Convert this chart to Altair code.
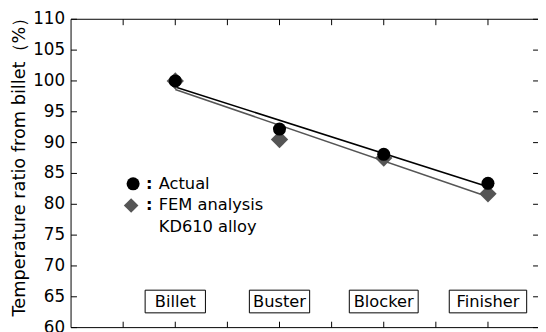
import altair as alt
import pandas as pd

# ---- data ----
stages = ["Billet", "Buster", "Blocker", "Finisher"]
stage_pos = [2, 4, 6, 8]
actual = [100.0, 92.2, 88.1, 83.4]
fem = [100.0, 90.5, 87.5, 81.7]
y_ticks = [60, 65, 70, 75, 80, 85, 90, 95, 100, 105, 110]
x_ticks = [1, 2, 3, 4, 5, 6, 7, 8]
legend_actual = "Actual"
legend_fem = ["FEM analysis", "KD610 alloy"]
y_title = "Temperature ratio from billet（%）"

# ---- layout / style ----
W, H = 474, 313
FONT = "DejaVu Sans"
GRAY = "#555555"

df = pd.DataFrame({
    "pos": stage_pos * 2,
    "value": actual + fem,
    "series": ["Actual"] * len(actual) + ["FEM"] * len(fem),
})
stage_df = pd.DataFrame({"pos": stage_pos, "label": stages})
yt_df = pd.DataFrame({"v": y_ticks})
xt_df = pd.DataFrame({"v": x_ticks})
one = pd.DataFrame({"a": [0]})

xs = alt.Scale(domain=[0, 8.96], nice=False, zero=False)
ys = alt.Scale(domain=[60, 110], nice=False, zero=False)

X = lambda f: alt.X(f, scale=xs, axis=None)
Y = lambda f: alt.Y(f, scale=ys, axis=None)

color_scale = alt.Scale(domain=["Actual", "FEM"], range=["black", GRAY])

lines = alt.Chart(df).transform_regression(
    "pos", "value", groupby=["series"]
).mark_line(strokeWidth=1.6).encode(
    x=X("pos:Q"), y=Y("value:Q"),
    color=alt.Color("series:N", scale=color_scale, legend=None),
)

diamonds = alt.Chart(df).transform_filter(alt.datum.series == "FEM").mark_point(
    shape="diamond", filled=True, size=310, color=GRAY, opacity=1
).encode(x=X("pos:Q"), y=Y("value:Q"))

circles = alt.Chart(df).transform_filter(alt.datum.series == "Actual").mark_point(
    shape="circle", filled=True, size=175, color="black", opacity=1
).encode(x=X("pos:Q"), y=Y("value:Q"))

boxes = alt.Chart(stage_df).transform_calculate(
    x1="datum.pos - (8.7*length(datum.label) + 9) / 2 / 52.9",
    x2="datum.pos + (8.7*length(datum.label) + 9) / 2 / 52.9",
).mark_rect(fill="white", stroke="black", strokeWidth=1).encode(
    x=X("x1:Q"), x2="x2:Q",
    y=alt.value(275), y2=alt.value(298),
)

box_text = alt.Chart(stage_df).mark_text(
    font=FONT, fontSize=16.5, baseline="middle", align="center", color="black"
).encode(x=X("pos:Q"), y=alt.value(287), text="label:N")

# ---- frame, ticks, tick labels, axis title ----
rule = dict(color="black", strokeWidth=1)
left_line = alt.Chart(one).mark_rule(**rule).encode(
    x=alt.value(0), y=alt.value(0), y2=alt.value(H))
bottom_line = alt.Chart(one).mark_rule(**rule).encode(
    x=alt.value(0), x2=alt.value(W), y=alt.value(H))
top_line = alt.Chart(one).mark_rule(**rule).encode(
    x=alt.value(0), x2=alt.value(W), y=alt.value(0))

yt_left = alt.Chart(yt_df).mark_rule(**rule).encode(
    y=Y("v:Q"), x=alt.value(0), x2=alt.value(6))
yt_right = alt.Chart(yt_df).mark_rule(**rule).encode(
    y=Y("v:Q"), x=alt.value(W - 5), x2=alt.value(W))
xt_top = alt.Chart(xt_df).mark_rule(**rule).encode(
    x=X("v:Q"), y=alt.value(0), y2=alt.value(6))
xt_bot = alt.Chart(xt_df).mark_rule(**rule).encode(
    x=X("v:Q"), y=alt.value(H - 6), y2=alt.value(H))

y_labels = alt.Chart(yt_df).mark_text(
    font=FONT, fontSize=17, align="right", baseline="middle", color="black"
).encode(y=Y("v:Q"), x=alt.value(-6), text="v:Q")

y_title_mark = alt.Chart(one).mark_text(
    text=y_title, font=FONT, fontSize=18, angle=270, align="center",
    baseline="middle", color="black"
).encode(x=alt.value(-52), y=alt.value(H / 2 - 11))

# ---- legend (drawn manually) ----
txt = dict(font=FONT, fontSize=16.5, align="left", baseline="middle", color="black")
leg_circle = alt.Chart(one).mark_point(
    shape="circle", filled=True, size=175, color="black", opacity=1
).encode(x=alt.value(63), y=alt.value(167))
leg_diamond = alt.Chart(one).mark_point(
    shape="diamond", filled=True, size=220, color=GRAY, opacity=1
).encode(x=alt.value(61), y=alt.value(189))
colon1 = alt.Chart(one).mark_text(text=":", fontWeight="bold", **txt).encode(
    x=alt.value(76), y=alt.value(167))
colon2 = alt.Chart(one).mark_text(text=":", fontWeight="bold", **txt).encode(
    x=alt.value(76), y=alt.value(189))
t1 = alt.Chart(one).mark_text(text=legend_actual, **txt).encode(
    x=alt.value(89), y=alt.value(167))
t2 = alt.Chart(one).mark_text(text=legend_fem[0], **txt).encode(
    x=alt.value(89), y=alt.value(189))
t3 = alt.Chart(one).mark_text(text=legend_fem[1], **txt).encode(
    x=alt.value(89), y=alt.value(211))

chart = alt.layer(
    lines, diamonds, circles, boxes, box_text,
    left_line, bottom_line, top_line,
    yt_left, yt_right, xt_top, xt_bot, y_labels, y_title_mark,
    leg_circle, leg_diamond, colon1, colon2, t1, t2, t3,
).properties(
    width=W, height=H,
    autosize=alt.AutoSizeParams(type="none"),
    padding={"left": 64, "top": 9, "right": 0, "bottom": 2},
    background="white",
).configure_view(stroke=None)

chart.save("out.html", embed_options={"renderer": "svg", "actions": False})
